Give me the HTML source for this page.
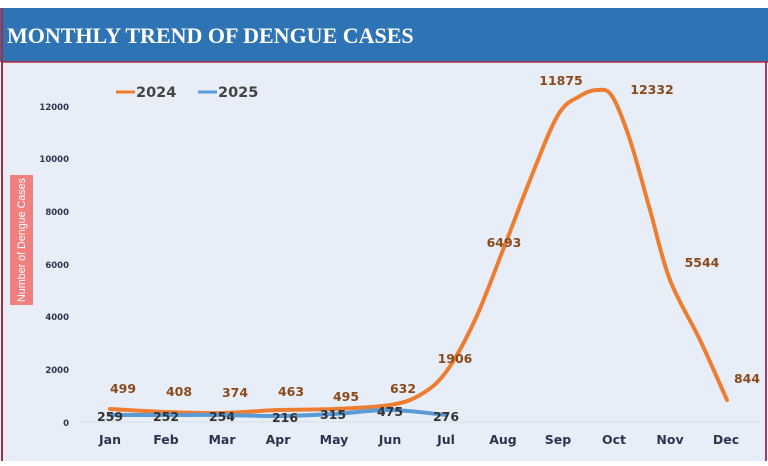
<!DOCTYPE html>
<html><head><meta charset="utf-8"><style>
body{margin:0;width:768px;height:461px;background:#fff;overflow:hidden;font-family:"Liberation Sans",sans-serif}
</style></head><body>
<svg width="768" height="461" xmlns="http://www.w3.org/2000/svg">
<rect x="0" y="0" width="768" height="461" fill="#fff"/>
<rect x="2" y="62" width="764" height="399" fill="#e8eef7"/>
<rect x="0" y="8" width="768" height="54" fill="#2e74b5"/>
<line x1="2" y1="8" x2="2" y2="461" stroke="#b0283c" stroke-width="2"/>
<line x1="766" y1="62" x2="766" y2="461" stroke="#9c3a6a" stroke-width="2"/>
<line x1="2" y1="62" x2="768" y2="62" stroke="#b0283c" stroke-width="1.5"/>
<text x="7" y="43" fill="#fff" font-family="Liberation Serif,serif" font-weight="bold" font-size="22">MONTHLY TREND OF DENGUE CASES</text>
<line x1="116" y1="92" x2="135" y2="92" stroke="#ed7d31" stroke-width="3"/>
<text x="136" y="97" fill="#444" font-family="DejaVu Sans,sans-serif" font-weight="bold" font-size="14.5">2024</text>
<line x1="198" y1="92" x2="217" y2="92" stroke="#5b9bd5" stroke-width="3"/>
<text x="218" y="97" fill="#444" font-family="DejaVu Sans,sans-serif" font-weight="bold" font-size="14.5">2025</text>
<g fill="#2b3550" font-family="DejaVu Sans,sans-serif" font-weight="bold" font-size="8.5" text-anchor="end">
<text x="69" y="110">12000</text><text x="69" y="162">10000</text><text x="69" y="215">8000</text>
<text x="69" y="268">6000</text><text x="69" y="320">4000</text><text x="69" y="373">2000</text><text x="69" y="426">0</text>
</g>
<rect x="10" y="175" width="23" height="130" fill="#f07f7f"/>
<text transform="translate(25,240) rotate(-90)" fill="#fff" font-size="11" text-anchor="middle" textLength="124" lengthAdjust="spacingAndGlyphs">Number of Dengue Cases</text>
<line x1="80" y1="422" x2="760" y2="422" stroke="#d8dde8" stroke-width="1"/>
<path id="p24" fill="none" stroke="#ed7d31" stroke-width="4" stroke-linecap="round"/>
<path id="p25" fill="none" stroke="#5b9bd5" stroke-width="4" stroke-linecap="round"/>
<g fill="#2b3550" font-family="DejaVu Sans,sans-serif" font-weight="bold" font-size="12.5" text-anchor="middle">
<text x="110" y="444">Jan</text><text x="166" y="444">Feb</text><text x="222" y="444">Mar</text><text x="278" y="444">Apr</text><text x="334" y="444">May</text><text x="390" y="444">Jun</text><text x="446" y="444">Jul</text><text x="503" y="444">Aug</text><text x="558" y="444">Sep</text><text x="614" y="444">Oct</text><text x="670" y="444">Nov</text><text x="726" y="444">Dec</text>
</g>
<g fill="#8a4a1c" font-family="DejaVu Sans,sans-serif" font-weight="bold" font-size="12.5" text-anchor="middle">
<text x="123" y="393">499</text><text x="179" y="396">408</text><text x="235" y="397">374</text><text x="291" y="396">463</text><text x="346" y="401">495</text><text x="403" y="393">632</text><text x="455" y="363">1906</text><text x="504" y="247">6493</text><text x="561" y="85">11875</text><text x="652" y="94">12332</text><text x="702" y="267">5544</text><text x="747" y="383">844</text>
</g>
<g fill="#333" font-family="DejaVu Sans,sans-serif" font-weight="bold" font-size="12.5" text-anchor="middle">
<text x="110" y="421">259</text><text x="166" y="421">252</text><text x="222" y="421">254</text><text x="285" y="422">216</text><text x="333" y="419">315</text><text x="390" y="416">475</text><text x="446" y="421">276</text>
</g>
</svg>
<script>
function cr(pts){var d="M"+pts[0][0]+","+pts[0][1];for(var i=0;i<pts.length-1;i++){var p0=pts[i-1]||pts[i],p1=pts[i],p2=pts[i+1],p3=pts[i+2]||p2;var c1=[p1[0]+(p2[0]-p0[0])/6,p1[1]+(p2[1]-p0[1])/6],c2=[p2[0]-(p3[0]-p1[0])/6,p2[1]-(p3[1]-p1[1])/6];d+=" C"+c1+" "+c2+" "+p2;}return d;}
document.getElementById("p24").setAttribute("d",cr([[110,409],[166,412],[222,413],[278,410],[334,409],[390,405],[420,395],[446,372],[475,320],[503,250],[530,180],[558,115],[580,96],[597,90],[612,96],[630,140],[650,210],[670,280],[700,340],[727,400]]));
document.getElementById("p25").setAttribute("d",cr([[110,415],[166,415],[222,415],[278,416],[334,414],[390,410],[446,415]]));
</script>
</body></html>
